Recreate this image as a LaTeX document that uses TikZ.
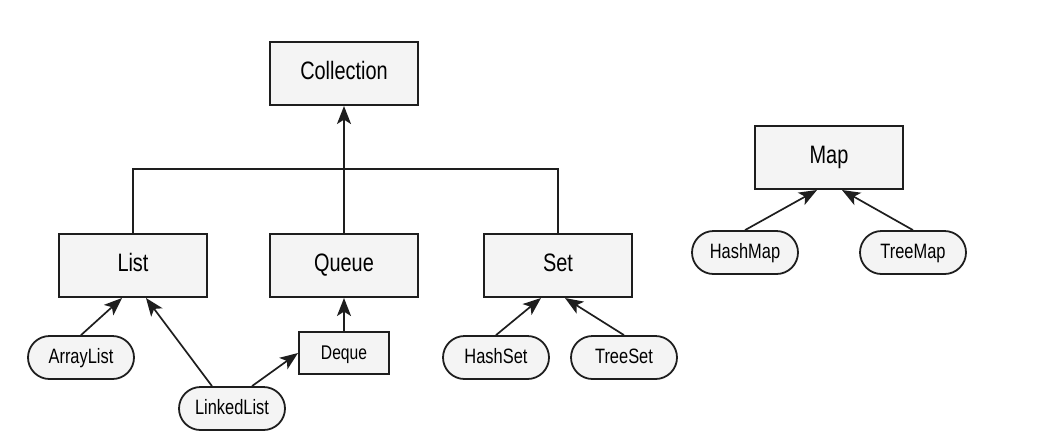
\documentclass[tikz,border=0pt]{standalone}
\usepackage{fontspec}
\setmainfont{Liberation Sans}[FakeStretch=0.79]
\usepackage{xcolor}
\definecolor{boxfill}{RGB}{244, 244, 244}
\definecolor{inkline}{RGB}{30, 30, 30}
\usepackage{tikz}
\usetikzlibrary{shapes.misc,arrows.meta,positioning,calc}

\begin{document}
\begin{tikzpicture}[
  x=0.5pt, y=-0.5pt,
  node distance=31pt,
  iface/.style={draw=inkline, fill=boxfill, line width=1pt, minimum width=74pt, minimum height=31.5pt, inner sep=0pt, text height=1.6ex, text depth=0.4ex, font=\fontsize{12.6}{14}\selectfont},
  small/.style={iface, minimum width=45pt, minimum height=21pt, font=\fontsize{9.9}{12}\selectfont},
  impl/.style={draw=inkline, fill=boxfill, rounded rectangle, line width=0.9pt, minimum width=53pt, minimum height=21.5pt, inner sep=0pt, text height=1.6ex, text depth=0.4ex, font=\fontsize{10.4}{12}\selectfont},
  arrow/.style={-{Stealth[length=9pt, width=7pt, inset=2.2pt]}, line width=0.85pt, color=inkline},
  link/.style={line width=0.85pt, color=inkline}
]
\useasboundingbox (0,0) rectangle (1043,447);

% collection hierarchy
\node[iface] (collection) at (344,73.5) {Collection};
\node[iface, below=63.5pt of collection] (queue) {Queue};
\node[iface, left=30.5pt of queue] (list) {List};
\node[iface, right=32pt of queue] (set) {Set};
\node[small, below=16.5pt of queue] (deque) {Deque};

\node[impl] (arraylist) at (81,357.5) {ArrayList};
\node[impl] (linkedlist) at (232,408.5) {LinkedList};
\node[impl] (hashset) at (496,357.5) {HashSet};
\node[impl] (treeset) at (624,357.5) {TreeSet};

% map hierarchy
\node[iface] (map) at (829,157.5) {Map};
\node[impl] (hashmap) at (745,252.5) {HashMap};
\node[impl] (treemap) at (913,252.5) {TreeMap};

\draw[link] (list.north) -- ++(0,-64) -| (set.north);
\draw[arrow] (queue.north) -- (collection.south);
\draw[arrow] (deque) -- (queue);

\draw[arrow] (arraylist.north) -- ($(list.south)+(-11,0)$);
\draw[arrow] ($(linkedlist.north)+(-20,0)$) -- ($(list.south)+(13,0)$);
\draw[arrow] ($(linkedlist.north)+(20,0)$) -- (deque.west);
\draw[arrow] (hashset.north) -- ($(set.south)+(-17,0)$);
\draw[arrow] (treeset.north) -- ($(set.south)+(7,0)$);

\draw[arrow] (hashmap.north) -- ($(map.south)+(-12,0)$);
\draw[arrow] (treemap.north) -- ($(map.south)+(13,0)$);
\end{tikzpicture}
\end{document}
